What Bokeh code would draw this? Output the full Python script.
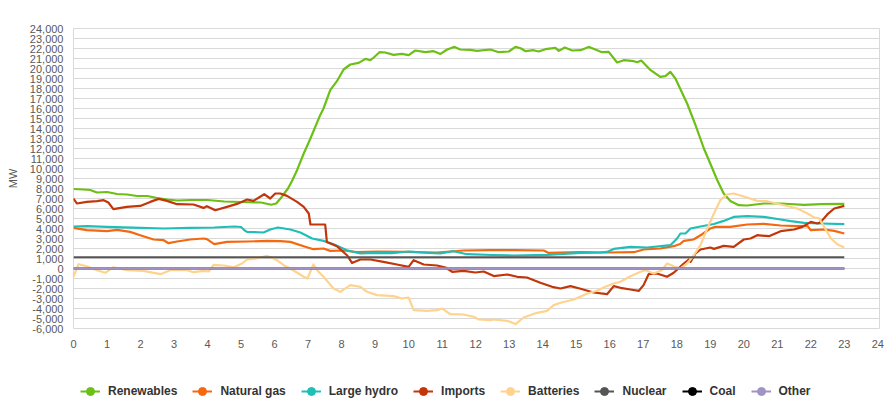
from bokeh.plotting import figure
from bokeh.layouts import column
from bokeh.models import Range1d, FixedTicker, NumeralTickFormatter, Legend, LegendItem
from bokeh.embed import file_html
from bokeh.resources import INLINE

# ---------------- data (hours, MW) ----------------
ren_h = [0.0, 0.3, 0.5, 0.7, 1.0, 1.3, 1.6, 1.9, 2.2, 2.5, 2.8, 3.1, 3.5, 4.0, 4.5, 5.0, 5.6, 5.9,
         6.05, 6.2, 6.4, 6.53, 6.67, 6.87, 7.07, 7.36, 7.46, 7.66, 7.86, 8.06, 8.26, 8.51, 8.71, 8.86,
         8.96, 9.13, 9.30, 9.55, 9.80, 10.0, 10.2, 10.5, 10.75, 10.95, 11.15, 11.37, 11.54, 11.84,
         12.04, 12.44, 12.69, 12.99, 13.19, 13.34, 13.49, 13.73, 13.88, 14.08, 14.38, 14.48, 14.66,
         14.88, 15.13, 15.37, 15.57, 15.77, 15.97, 16.22, 16.42, 16.72, 16.82, 16.94, 17.22, 17.51,
         17.66, 17.81, 17.96, 18.31, 18.56, 18.81, 19.0, 19.21, 19.40, 19.60, 19.85, 20.10, 20.6,
         21.1, 21.8, 22.3, 23.0]
ren_mw = [7950, 7900, 7850, 7600, 7650, 7450, 7400, 7250, 7250, 7050, 6900, 6800, 6850, 6850, 6700,
          6650, 6600, 6380, 6500, 7100, 8000, 8830, 9830, 11500, 13000, 15330, 16000, 17830, 18730,
          19900, 20400, 20560, 20960, 20830, 21100, 21630, 21600, 21360, 21460, 21330, 21800, 21630,
          21730, 21460, 21900, 22160, 21900, 21860, 21760, 21900, 21630, 21700, 22160, 22030, 21730,
          21830, 21700, 21930, 22060, 21760, 22100, 21800, 21830, 22160, 21900, 21630, 21660, 20600,
          20830, 20730, 20630, 20800, 19830, 19160, 19230, 19660, 19000, 16500, 14330, 12000, 10500,
          8830, 7500, 6760, 6330, 6300, 6500, 6500, 6370, 6430, 6460]

gas_h = [0.0, 0.4, 1.0, 1.3, 1.69, 1.99, 2.39, 2.69, 2.84, 3.09, 3.48, 3.88, 3.98, 4.2, 4.58, 5.18,
         5.77, 6.17, 6.47, 6.87, 7.16, 7.46, 7.66, 8.06, 8.46, 9.06, 9.85, 10.85, 11.64, 12.44, 13.13,
         14.03, 14.18, 15.13, 15.92, 16.72, 17.01, 17.51, 17.91, 18.1, 18.21, 18.5, 18.76, 19.0,
         19.15, 19.6, 20.1, 20.6, 21.1, 21.6, 21.9, 22.0, 22.4, 22.7, 23.0]
gas_mw = [4060, 3830, 3730, 3860, 3660, 3330, 2900, 2830, 2530, 2700, 2900, 3000, 2930, 2430, 2660,
          2700, 2760, 2730, 2660, 2230, 1930, 2000, 1760, 1800, 1630, 1700, 1660, 1600, 1800, 1830,
          1830, 1800, 1560, 1630, 1600, 1630, 1900, 2000, 2230, 2450, 2760, 2900, 3430, 4000, 4160,
          4160, 4400, 4460, 4300, 4230, 4260, 3830, 3900, 3760, 3500]

hyd_h = [0.0, 0.4, 1.0, 2.0, 2.69, 3.5, 4.2, 4.8, 5.0, 5.1, 5.18, 5.67, 5.87, 6.1, 6.47, 6.77, 7.12,
         7.46, 7.76, 8.16, 8.56, 9.0, 9.5, 10.0, 10.15, 10.6, 10.94, 11.34, 11.74, 12.5, 13.13,
         14.13, 15.13, 15.72, 15.92, 16.12, 16.62, 17.12, 17.81, 18.01, 18.11, 18.26, 18.41, 18.71,
         19.11, 19.4, 19.7, 20.1, 20.6, 21.1, 21.4, 21.8, 22.3, 23.0]
hyd_mw = [4200, 4230, 4160, 4060, 4000, 4060, 4100, 4200, 4150, 3830, 3660, 3600, 3900, 4100, 3900,
          3600, 3000, 2760, 2430, 1830, 1500, 1560, 1530, 1700, 1660, 1550, 1500, 1730, 1430, 1350,
          1300, 1360, 1560, 1600, 1660, 1960, 2160, 2100, 2330, 3000, 3500, 3500, 4000, 4200, 4450,
          4760, 5160, 5230, 5160, 4900, 4730, 4560, 4500, 4430]

imp_h = [0.0, 0.1, 0.4, 0.7, 0.9, 1.04, 1.19, 1.59, 1.99, 2.29, 2.54, 2.79, 3.09, 3.58, 3.88, 3.98,
         4.23, 4.58, 4.88, 5.18, 5.37, 5.69, 5.87, 6.02, 6.17, 6.37, 6.67, 6.87, 7.02, 7.07, 7.51,
         7.56, 7.86, 8.16, 8.31, 8.56, 8.86, 9.25, 9.65, 10.0, 10.15, 10.45, 10.85, 11.1, 11.3,
         11.64, 11.99, 12.24, 12.54, 12.94, 13.24, 13.53, 13.93, 14.28, 14.53, 14.83, 15.13, 15.52,
         15.92, 16.12, 16.32, 16.62, 16.87, 17.01, 17.16, 17.41, 17.71, 17.91, 18.21, 18.36, 18.41,
         18.56, 18.71, 19.0, 19.11, 19.4, 19.7, 20.0, 20.2, 20.4, 20.75, 21.1, 21.5, 21.75, 22.0,
         22.2, 22.3, 22.5, 22.7, 23.0]
imp_mw = [7000, 6500, 6670, 6730, 6830, 6600, 5930, 6160, 6260, 6660, 6960, 6760, 6430, 6400, 6060,
          6230, 5830, 6160, 6460, 6900, 6760, 7430, 7000, 7500, 7500, 7260, 6660, 6160, 5500, 4400,
          4400, 2660, 2230, 1330, 560, 900, 900, 660, 400, 160, 830, 400, 300, 100, -330, -230, -400,
          -300, -760, -600, -830, -900, -1430, -1830, -2000, -1760, -2030, -2400, -2570, -1760,
          -1930, -2100, -2230, -1660, -570, -500, -830, -430, 500, 900, 660, 1500, 1900, 2100, 1960,
          2260, 2160, 2900, 3000, 3330, 3230, 3730, 3900, 4160, 4660, 4500, 4660, 5430, 6000, 6260]

bat_h = [0.0, 0.15, 0.4, 0.7, 0.95, 1.19, 1.59, 2.09, 2.59, 2.89, 3.39, 3.58, 3.88, 4.03, 4.18, 4.48,
         4.78, 5.03, 5.18, 5.47, 5.77, 5.97, 6.07, 6.27, 6.47, 6.87, 6.98, 7.16, 7.31, 7.46, 7.76,
         7.96, 8.26, 8.56, 8.76, 9.06, 9.55, 9.8, 10.0, 10.15, 10.55, 10.85, 11.0, 11.24, 11.64,
         11.94, 12.09, 12.44, 12.54, 12.94, 13.19, 13.43, 13.83, 14.13, 14.33, 14.53, 14.93, 15.33,
         15.62, 15.87, 16.12, 16.32, 16.62, 16.92, 17.07, 17.31, 17.56, 17.71, 17.91, 18.11, 18.31,
         18.51, 18.71, 18.91, 19.11, 19.3, 19.5, 19.7, 20.1, 20.4, 20.7, 21.1, 21.6, 21.9, 22.1,
         22.24, 22.4, 22.6, 22.8, 23.0]
bat_mw = [-830, 430, 230, -170, -430, 130, -170, -230, -570, -170, -170, -370, -230, -300, 370, 300,
          130, 500, 900, 1000, 1260, 1000, 830, 330, 0, -830, -1000, 400, -330, -830, -2000, -2330,
          -1660, -1830, -2330, -2660, -2760, -3000, -2900, -4160, -4230, -4160, -4000, -4560, -4600,
          -4830, -5100, -5160, -5100, -5230, -5560, -4900, -4430, -4230, -3660, -3430, -3100, -2500,
          -2230, -1830, -1500, -1330, -770, -330, -170, -500, -170, 500, 230, 0, 500, 1330, 2330,
          4000, 5500, 6830, 7400, 7500, 7100, 6760, 6730, 6400, 6000, 5500, 5100, 5050, 4160, 3000,
          2400, 2100]

nuc_h = [0.0, 23.0]
nuc_mw = [1120, 1120]
coal_h = [0.0, 23.0]
coal_mw = [0, 0]
oth_h = [0.0, 23.0]
oth_mw = [0, 0]

labels = ["Renewables", "Natural gas", "Large hydro", "Imports", "Batteries", "Nuclear", "Coal", "Other"]
colors = ["#6cbf14", "#f5680f", "#1fbfb8", "#c2360a", "#ffd38e", "#555555", "#000000", "#a193c6"]
x_ticks = list(range(0, 25))
y_ticks = list(range(-6000, 24001, 1000))

series = [(ren_h, ren_mw), (gas_h, gas_mw), (hyd_h, hyd_mw), (imp_h, imp_mw), (bat_h, bat_mw),
          (nuc_h, nuc_mw), (coal_h, coal_mw), (oth_h, oth_mw)]
widths = [2.2, 2.2, 2.2, 2.2, 2.2, 2, 2, 2.5]

# ---------------- main chart ----------------
p = figure(width=895, height=360, output_backend="svg", toolbar_location=None,
           x_range=Range1d(0, 24.05), y_range=Range1d(-6000, 24000),
           min_border_left=73, min_border_right=16, min_border_top=28, min_border_bottom=32)
p.background_fill_color = "white"
p.border_fill_color = "white"
p.outline_line_color = "#d9d9d9"
p.xgrid.visible = False
p.ygrid.grid_line_color = "#d9d9d9"
p.ygrid.grid_line_width = 1

p.xaxis.ticker = FixedTicker(ticks=x_ticks)
p.yaxis.ticker = FixedTicker(ticks=y_ticks)
p.yaxis.formatter = NumeralTickFormatter(format="0,0")
for ax in (p.xaxis, p.yaxis):
    ax.axis_line_color = None
    ax.major_tick_line_color = None
    ax.minor_tick_line_color = None
    ax.major_tick_out = 0
    ax.major_tick_in = 0
    ax.major_label_text_font = "Liberation Sans"
    ax.major_label_text_font_size = "11px"
    ax.major_label_text_color = "#595959"
p.xaxis.major_label_standoff = 11
p.yaxis.major_label_standoff = 10
p.yaxis.axis_label = "MW"
p.yaxis.axis_label_text_font = "Liberation Sans"
p.yaxis.axis_label_text_font_size = "11px"
p.yaxis.axis_label_text_font_style = "normal"
p.yaxis.axis_label_text_color = "#595959"
p.yaxis.axis_label_standoff = 8

for (hx, my), col, w in zip(series, colors, widths):
    p.line(hx, my, line_color=col, line_width=w, line_join="round")

# ---------------- legend strip ----------------
lg = figure(width=895, height=59, output_backend="svg", toolbar_location=None,
            x_range=Range1d(0, 1), y_range=Range1d(0, 1),
            x_axis_location=None, y_axis_location=None,
            min_border_left=0, min_border_right=0, min_border_top=0, min_border_bottom=0)
lg.grid.visible = False
lg.outline_line_color = None
lg.background_fill_color = "white"
lg.border_fill_color = "white"

items = []
for lab, col in zip(labels, colors):
    r = lg.line([float("nan")], [float("nan")], line_color=col, line_width=2)
    m = lg.scatter([float("nan")], [float("nan")], size=7, fill_color=col, line_color=col)
    items.append(LegendItem(label=lab, renderers=[r, m]))

legend = Legend(items=items, orientation="horizontal", location=(7, 18),
                glyph_width=20, glyph_height=20, label_standoff=8, spacing=15,
                padding=0, margin=0, border_line_color=None, background_fill_alpha=0,
                label_text_font="Liberation Sans", label_text_font_size="12px",
                label_text_font_style="bold", label_text_color="#333333")
lg.add_layout(legend, "center")

open("out.html", "w").write(file_html(column(p, lg, spacing=0), INLINE))
